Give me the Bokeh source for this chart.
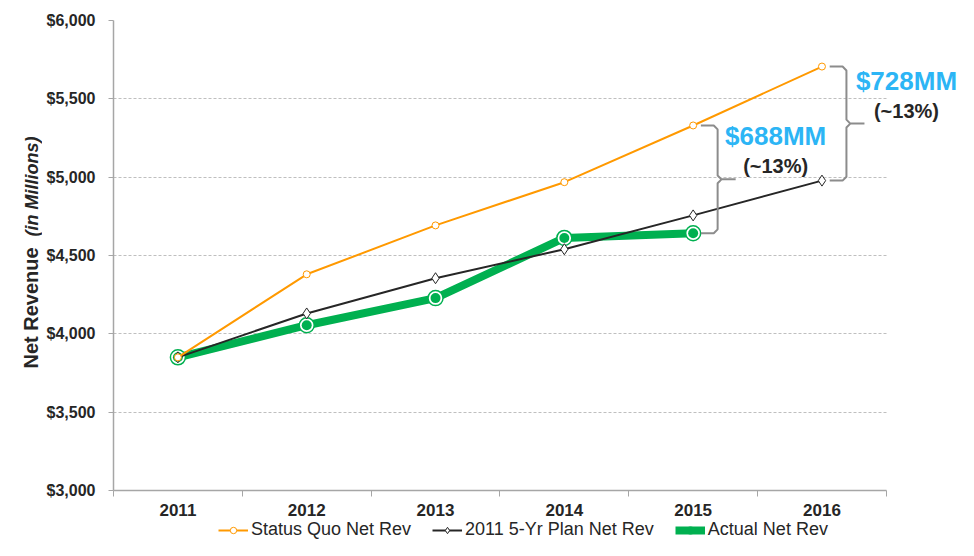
#Line chart of net revenue: status quo vs 5-yr plan vs actual
from bokeh.plotting import figure
from bokeh.layouts import row, column
from bokeh.models import (Range1d, FixedTicker, NumeralTickFormatter, Label,
                          Legend, LegendItem)
from bokeh.embed import file_html
from bokeh.resources import INLINE
import math

##### DATA #####
years = ["2011", "2012", "2013", "2014", "2015", "2016"]
status_quo = [3850, 4380, 4692, 4968, 5330, 5706]
plan_5yr = [3850, 4130, 4355, 4540, 4756, 4978]
actual = [3850, 4055, 4228, 4612, 4642]
y_ticks = [3000, 3500, 4000, 4500, 5000, 5500, 6000]
series_names = ["Status Quo Net Rev", "2011 5-Yr Plan Net Rev", "Actual Net Rev"]

FONT = "Liberation Sans"
ORANGE = "#ff9900"
DARK = "#262626"
GREEN = "#00b050"
BLUE = "#2cb5f5"
GRAY = "#a6a6a6"
BRACE = "#8c8c8c"

xs = list(range(len(years)))
xs_actual = xs[:len(actual)]
x_lo, x_hi = -0.5, len(years) - 0.5

#### Y AXIS TITLE (own narrow strip so the mixed styles can sit on one line) ####
tp = figure(width=42, height=518, output_backend="svg", toolbar_location=None,
            x_axis_location=None, y_axis_location=None, min_border=0,
            x_range=(0, 1), y_range=(0, 1))
tp.outline_line_color = None
tp.grid.visible = False
tp.add_layout(Label(x=30, y=122, x_units="screen", y_units="screen",
                    text="Net Revenue", angle=math.pi / 2, text_align="left",
                    text_baseline="middle", text_font=FONT, text_font_style="bold",
                    text_font_size="20px", text_color=DARK))
tp.add_layout(Label(x=31, y=254, x_units="screen", y_units="screen",
                    text="(in Millions)", angle=math.pi / 2, text_align="left",
                    text_baseline="middle", text_font=FONT, text_font_style="bold italic",
                    text_font_size="18px", text_color=DARK))

#### MAIN FIGURE ####
#frame runs to the right edge so the gap labels are not clipped
p = figure(width=916, height=518, output_backend="svg", toolbar_location=None,
           x_range=Range1d(x_lo, 6.06),
           y_range=Range1d(y_ticks[0], y_ticks[-1]),
           min_border_left=71, min_border_right=0,
           min_border_top=20, min_border_bottom=28)
p.outline_line_color = None
p.background_fill_color = "white"

#x axis: labels at category centres, tick marks between them
p.xaxis.bounds = (x_lo, x_hi)
p.xaxis.ticker = FixedTicker(ticks=xs, minor_ticks=[i - 0.5 for i in range(len(years) + 1)])
p.xaxis.major_label_overrides = {i: y for i, y in enumerate(years)}
p.xaxis.major_tick_out = 0
p.xaxis.major_tick_in = 0
p.xaxis.minor_tick_out = 6
p.xaxis.minor_tick_in = 0
p.xaxis.minor_tick_line_color = GRAY
p.xaxis.axis_line_color = GRAY
p.xaxis.axis_line_width = 1.5
p.xaxis.major_label_standoff = 7
p.xaxis.major_label_text_font = FONT
p.xaxis.major_label_text_font_style = "bold"
p.xaxis.major_label_text_font_size = "17px"
p.xaxis.major_label_text_color = DARK
p.xgrid.grid_line_color = None

#y axis
p.yaxis.ticker = FixedTicker(ticks=y_ticks)
p.yaxis.formatter = NumeralTickFormatter(format="$0,0")
p.yaxis.major_tick_out = 5
p.yaxis.major_tick_in = 0
p.yaxis.minor_tick_line_color = None
p.yaxis.major_tick_line_color = GRAY
p.yaxis.axis_line_color = GRAY
p.yaxis.axis_line_width = 1.5
p.yaxis.major_label_standoff = 13
p.yaxis.major_label_text_font = FONT
p.yaxis.major_label_text_font_style = "bold"
p.yaxis.major_label_text_font_size = "16px"
p.yaxis.major_label_text_color = DARK
p.ygrid.grid_line_color = "#bfbfbf"
p.ygrid.grid_line_dash = "3 2"
p.ygrid.cross_bounds = (x_lo, x_hi)

#### SERIES ####
def draw_series(fig, x_sq, x_ac):
    ac = [fig.line(x_ac, actual, line_color=GREEN, line_width=8),
          fig.scatter(x_ac, actual, marker="circle", size=15, fill_color="white",
                      line_color=GREEN, line_width=1.5),
          fig.scatter(x_ac, actual, marker="circle", size=10, fill_color=GREEN,
                      line_color=None)]
    pl = [fig.line(x_sq, plan_5yr, line_color=DARK, line_width=2),
          fig.scatter(x_sq, plan_5yr, marker="diamond", size=11, fill_color="white",
                      line_color=DARK, line_width=1)]
    sq = [fig.line(x_sq, status_quo, line_color=ORANGE, line_width=2),
          fig.scatter(x_sq, status_quo, marker="circle", size=7, fill_color="white",
                      line_color=ORANGE, line_width=1)]
    return sq, pl, ac

draw_series(p, xs, xs_actual)

#### BRACES + GAP LABELS ####
def brace(x, top, bottom, gap, pct):
    x0, x1, x2 = x + 0.06, x + 0.19, x + 0.33
    rx, ry = 0.03, 25
    mid = (top + bottom) / 2
    bx = [x0, x1 - rx, x1, x1, x1 + rx, x2, x1 + rx, x1, x1, x1 - rx, x0]
    by = [top, top, top - ry, mid + ry, mid, mid, mid, mid - ry, bottom + ry, bottom, bottom]
    p.line(bx, by, line_color=BRACE, line_width=2)
    p.add_layout(Label(x=x2, y=mid, x_offset=gap, y_offset=43, text=pct[0],
                       text_align="center", text_baseline="middle", text_font=FONT,
                       text_font_style="bold", text_font_size="26px", text_color=BLUE))
    p.add_layout(Label(x=x2, y=mid, x_offset=gap, y_offset=13, text=pct[1],
                       text_align="center", text_baseline="middle", text_font=FONT,
                       text_font_style="bold", text_font_size="20px", text_color=DARK))

brace(xs[4], status_quo[4], actual[4], 40, ["$688MM", "(~13%)"])
brace(xs[5], status_quo[5], plan_5yr[5], 42, ["$728MM", "(~13%)"])

#### LEGEND (own strip under the chart; its series lie outside its ranges) ####
lg = figure(width=958, height=22, output_backend="svg", toolbar_location=None,
            x_axis_location=None, y_axis_location=None, min_border=0,
            x_range=(-10, -9), y_range=(0, 1))
lg.outline_line_color = None
lg.grid.visible = False
r_sq, r_pl, r_ac = draw_series(lg, xs, xs_actual)

legend = Legend(items=[LegendItem(label=n, renderers=r)
                       for n, r in zip(series_names, [r_sq, r_pl, r_ac])],
                orientation="horizontal", location=(218, 0))
legend.padding = 0
legend.margin = 0
legend.spacing = 21
legend.glyph_width = 30
legend.glyph_height = 16
legend.label_height = 16
legend.label_standoff = 3
legend.label_text_font = FONT
legend.label_text_font_size = "18px"
legend.label_text_color = DARK
legend.border_line_color = None
legend.background_fill_alpha = 0
lg.add_layout(legend, "center")

layout = column(row(tp, p, spacing=0), lg, spacing=0)
open("out.html", "w").write(file_html(layout, INLINE))
